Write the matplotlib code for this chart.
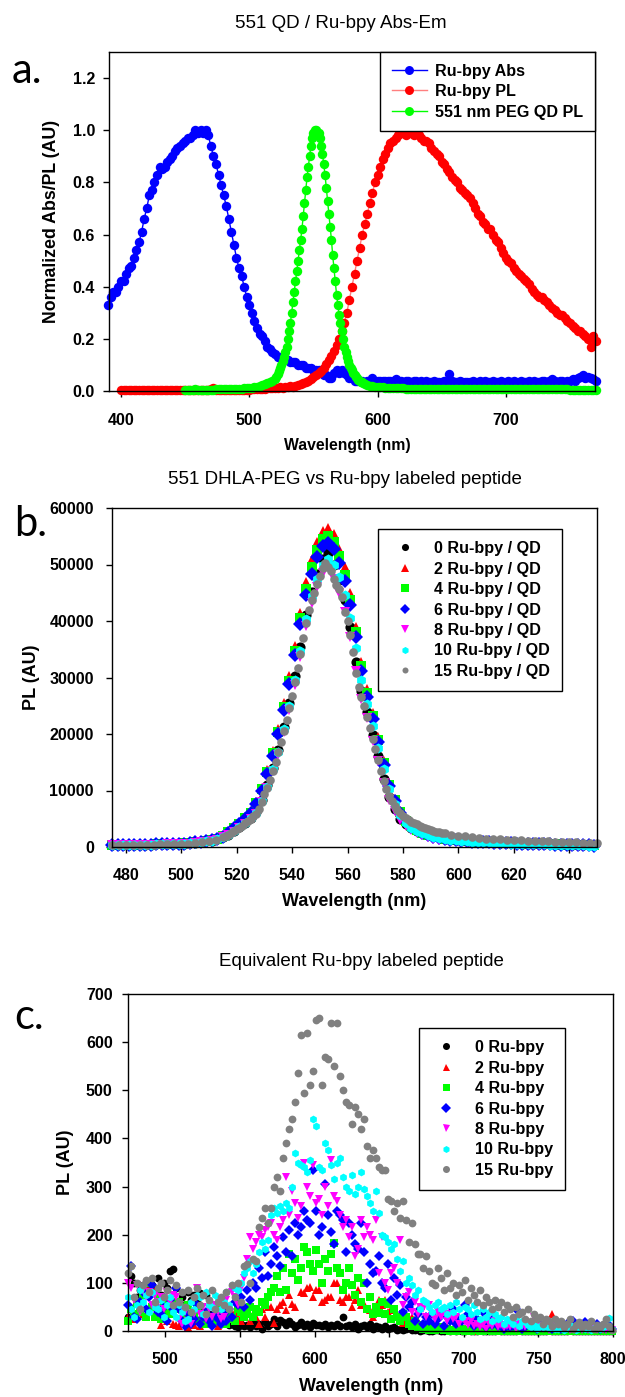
import matplotlib
matplotlib.use('Agg')
import matplotlib.pyplot as plt
import numpy as np

plt.rcParams['font.family'] = ['Liberation Sans', 'DejaVu Sans']

# ---------------- panel a : normalized Abs / PL ----------------
wl_abs = np.arange(390, 771, 2)
rubpy_abs = [
    0.33, 0.36, 0.38, 0.38, 0.40, 0.42, 0.42, 0.45, 0.47, 0.48,
    0.51, 0.54, 0.57, 0.61, 0.66, 0.70, 0.75, 0.77, 0.80, 0.83,
    0.86, 0.85, 0.86, 0.88, 0.89, 0.90, 0.92, 0.93, 0.94, 0.95,
    0.96, 0.97, 0.97, 0.98, 1.00, 0.99, 1.00, 0.99, 1.00, 0.98,
    0.94, 0.90, 0.87, 0.83, 0.79, 0.75, 0.71, 0.66, 0.61, 0.56,
    0.51, 0.47, 0.44, 0.40, 0.36, 0.33, 0.30, 0.27, 0.24, 0.22,
    0.21, 0.19, 0.17, 0.16, 0.15, 0.14, 0.13, 0.13, 0.12, 0.12,
    0.12, 0.11, 0.11, 0.11, 0.10, 0.10, 0.10, 0.09, 0.09, 0.09,
    0.08, 0.08, 0.08, 0.07, 0.06, 0.06, 0.05, 0.05, 0.07, 0.08,
    0.07, 0.08, 0.07, 0.06, 0.05, 0.05, 0.04, 0.04, 0.04, 0.04,
    0.03, 0.04, 0.04, 0.05, 0.04, 0.04, 0.04, 0.04, 0.04, 0.04,
    0.04, 0.04, 0.045, 0.04, 0.04, 0.035, 0.04, 0.04, 0.035, 0.04,
    0.04, 0.035, 0.04, 0.035, 0.04, 0.035, 0.035, 0.04, 0.035, 0.035,
    0.035, 0.04, 0.035, 0.065, 0.04, 0.035, 0.035, 0.04, 0.035, 0.035,
    0.035, 0.035, 0.04, 0.035, 0.035, 0.04, 0.035, 0.04, 0.035, 0.035,
    0.04, 0.035, 0.035, 0.04, 0.035, 0.035, 0.04, 0.035, 0.04, 0.035,
    0.035, 0.04, 0.035, 0.035, 0.04, 0.035, 0.04, 0.035, 0.035, 0.04,
    0.04, 0.035, 0.04, 0.045, 0.04, 0.035, 0.04, 0.04, 0.035, 0.04,
    0.04, 0.045, 0.04, 0.05, 0.055, 0.06, 0.05, 0.055, 0.05, 0.045,
    0.04]

wl_pl = np.arange(400, 771, 2)
rubpy_pl = [
    0.002, 0.003, 0.002, 0.002, 0.003, 0.002, 0.002, 0.003, 0.002, 0.002,
    0.002, 0.003, 0.002, 0.002, 0.003, 0.002, 0.002, 0.003, 0.002, 0.002,
    0.002, 0.003, 0.002, 0.002, 0.003, 0.002, 0.002, 0.003, 0.002, 0.002,
    0.002, 0.003, 0.002, 0.002, 0.003, 0.006, 0.012, 0.004, 0.002, 0.003,
    0.003, 0.002, 0.003, 0.004, 0.003, 0.004, 0.004, 0.005, 0.004, 0.005,
    0.005, 0.006, 0.006, 0.007, 0.008, 0.008, 0.009, 0.010, 0.010, 0.011,
    0.012, 0.013, 0.015, 0.012, 0.014, 0.016, 0.018, 0.017, 0.019, 0.022,
    0.025, 0.030, 0.035, 0.040, 0.046, 0.053, 0.060, 0.068, 0.078, 0.090,
    0.105, 0.12, 0.135, 0.155, 0.175, 0.20, 0.23, 0.26, 0.30, 0.35,
    0.40, 0.45, 0.50, 0.55, 0.60, 0.64, 0.68, 0.72, 0.76, 0.80,
    0.83, 0.86, 0.89, 0.91, 0.93, 0.95, 0.96, 0.97, 0.98, 0.99,
    0.99, 0.98, 0.99, 0.99, 0.98, 0.99, 0.98, 0.97, 0.96, 0.96,
    0.95, 0.93, 0.92, 0.91, 0.90, 0.88, 0.87, 0.85, 0.84, 0.82,
    0.81, 0.80, 0.78, 0.77, 0.76, 0.75, 0.74, 0.72, 0.70, 0.68,
    0.67, 0.65, 0.64, 0.62, 0.62, 0.60, 0.58, 0.57, 0.55, 0.53,
    0.51, 0.50, 0.49, 0.47, 0.46, 0.45, 0.44, 0.43, 0.42, 0.41,
    0.39, 0.38, 0.37, 0.36, 0.36, 0.35, 0.34, 0.33, 0.32, 0.31,
    0.30, 0.29, 0.29, 0.28, 0.27, 0.26, 0.25, 0.24, 0.23, 0.23,
    0.22, 0.21, 0.20, 0.17, 0.21,
    0.19]

wl_qd = np.concatenate([np.arange(450, 520, 2), np.arange(520, 590), np.arange(590, 771, 2)])
qd_pl = [
    0.005, 0.004, 0.005, 0.005, 0.006, 0.005, 0.005, 0.004, 0.005, 0.005,
    0.005, 0.005, 0.006, 0.006, 0.006, 0.006, 0.007, 0.007, 0.007, 0.008,
    0.008, 0.009, 0.009, 0.010, 0.011, 0.012, 0.013, 0.015, 0.017, 0.019,
    0.022, 0.025, 0.029, 0.034, 0.040,
    0.047, 0.055, 0.064, 0.075, 0.088, 0.10, 0.115, 0.13, 0.15, 0.17,
    0.20, 0.23, 0.26, 0.30, 0.34, 0.38, 0.42, 0.46, 0.50, 0.54,
    0.58, 0.62, 0.67, 0.72, 0.77, 0.82, 0.86, 0.90, 0.94, 0.97,
    0.99, 1.00, 1.00, 0.99, 0.99, 0.97, 0.94, 0.91, 0.87, 0.83,
    0.78, 0.73, 0.68, 0.63, 0.58, 0.52, 0.47, 0.42, 0.37, 0.33,
    0.29, 0.26, 0.23, 0.20, 0.17, 0.15, 0.13, 0.115, 0.10, 0.09,
    0.08, 0.07, 0.062, 0.055, 0.049, 0.044, 0.040, 0.036, 0.033, 0.030,
    0.027, 0.024, 0.021, 0.019, 0.017, 0.016, 0.015, 0.014, 0.013, 0.012,
    0.012, 0.011, 0.011, 0.010, 0.010, 0.010, 0.009, 0.009, 0.009, 0.009,
    0.008, 0.008, 0.008, 0.008, 0.008, 0.008, 0.008, 0.008, 0.008, 0.008,
    0.008, 0.008, 0.007, 0.007, 0.007, 0.007, 0.007, 0.007, 0.007, 0.007,
    0.007, 0.007, 0.007, 0.007, 0.007, 0.007, 0.007, 0.007, 0.007, 0.007,
    0.007, 0.006, 0.007, 0.006, 0.006, 0.006, 0.006, 0.006, 0.006, 0.006,
    0.006, 0.006, 0.006, 0.006, 0.006, 0.006, 0.006, 0.006, 0.006, 0.006,
    0.006, 0.006, 0.006, 0.006, 0.006, 0.006, 0.006, 0.006, 0.006, 0.006,
    0.005, 0.005, 0.005, 0.005, 0.005, 0.005, 0.005, 0.005, 0.005, 0.005,
    0.005]

# ---------------- panel b : QD PL (x1000 counts) ----------------
wl_b = np.arange(475, 650, 2)
wl_b15 = np.concatenate([np.arange(475, 515, 2.5), np.arange(515, 595), np.arange(595, 650.1, 2.5)])
qd_0 = [
    0.3, 0.3, 0.3, 0.4, 0.4, 0.4, 0.4, 0.4, 0.5, 0.5,
    0.5, 0.5, 0.6, 0.6, 0.7, 0.7, 0.8, 1.0, 1.1, 1.4,
    1.8, 2.2, 2.9, 3.5, 4.3, 5.2, 6.2, 8.3, 10.9, 14.0,
    17.2, 21.3, 25.5, 30.2, 35.4, 41.1, 45.2, 48.4, 51.0, 52.0,
    49.9, 47.3, 43.7, 39.0, 32.8, 27.6, 23.9, 19.8, 16.1, 12.0,
    8.8, 6.8, 5.0, 4.0, 3.3, 2.8, 2.4, 2.1, 1.9, 1.7,
    1.5, 1.4, 1.3, 1.2, 1.1, 1.0, 0.95, 0.9, 0.85, 0.8,
    0.75, 0.7, 0.7, 0.65, 0.6, 0.6, 0.55, 0.55, 0.5, 0.5,
    0.45, 0.45, 0.4, 0.4, 0.35, 0.35, 0.3, 0.3]
qd_2 = [
    0.3, 0.3, 0.4, 0.4, 0.4, 0.4, 0.5, 0.5, 0.5, 0.5,
    0.6, 0.6, 0.6, 0.7, 0.7, 0.8, 0.9, 1.1, 1.2, 1.5,
    1.9, 2.6, 3.45, 4.25, 5.2, 6.25, 7.9, 10.5, 13.6, 17.0,
    20.9, 25.5, 30.3, 35.6, 41.5, 46.9, 50.9, 54.0, 56.0, 56.5,
    55.4, 52.8, 49.5, 45.0, 39.0, 32.8, 28.0, 23.8, 19.5, 15.3,
    11.3, 8.5, 6.4, 4.8, 3.8, 3.1, 2.6, 2.25, 2.0, 1.8,
    1.5, 1.4, 1.3, 1.2, 1.1, 1.0, 0.95, 0.9, 0.85, 0.8,
    0.75, 0.7, 0.7, 0.65, 0.6, 0.6, 0.55, 0.5, 0.5, 0.5,
    0.45, 0.4, 0.4, 0.4, 0.35, 0.35, 0.3, 0.3]
qd_4 = [
    0.3, 0.3, 0.3, 0.4, 0.4, 0.4, 0.4, 0.4, 0.5, 0.5,
    0.6, 0.6, 0.6, 0.7, 0.7, 0.8, 0.9, 1.0, 1.2, 1.5,
    1.9, 2.6, 3.35, 4.15, 5.05, 6.05, 7.7, 10.2, 13.25, 16.55,
    20.4, 24.8, 29.45, 34.65, 40.45, 45.7, 49.55, 52.55, 54.45, 55.0,
    53.9, 51.45, 48.15, 43.75, 38.0, 31.95, 27.25, 23.1, 19.0, 14.9,
    11.05, 8.3, 6.2, 4.65, 3.7, 3.05, 2.55, 2.15, 1.9, 1.7,
    1.5, 1.4, 1.3, 1.2, 1.1, 1.0, 0.9, 0.9, 0.8, 0.8,
    0.75, 0.7, 0.65, 0.65, 0.6, 0.55, 0.55, 0.5, 0.5, 0.45,
    0.45, 0.4, 0.4, 0.35, 0.35, 0.3, 0.3, 0.3]
qd_6 = [
    0.3, 0.3, 0.3, 0.4, 0.4, 0.4, 0.4, 0.4, 0.5, 0.5,
    0.5, 0.5, 0.6, 0.6, 0.7, 0.8, 0.9, 1.0, 1.2, 1.5,
    1.8, 2.5, 3.35, 4.1, 4.95, 5.95, 7.55, 9.95, 12.9, 16.15,
    19.95, 24.25, 28.8, 33.9, 39.55, 44.65, 48.4, 51.35, 53.25, 53.8,
    52.7, 50.3, 47.1, 42.8, 37.2, 31.2, 26.6, 22.6, 18.6, 14.6,
    10.8, 8.1, 6.1, 4.6, 3.6, 2.95, 2.5, 2.1, 1.8, 1.6,
    1.4, 1.3, 1.2, 1.1, 1.0, 0.95, 0.9, 0.85, 0.8, 0.75,
    0.7, 0.65, 0.65, 0.6, 0.55, 0.55, 0.5, 0.5, 0.45, 0.45,
    0.4, 0.4, 0.35, 0.35, 0.3, 0.3, 0.3, 0.25]
qd_8 = [
    0.3, 0.3, 0.3, 0.3, 0.3, 0.3, 0.4, 0.4, 0.4, 0.4,
    0.5, 0.5, 0.5, 0.6, 0.6, 0.7, 0.8, 0.9, 1.1, 1.3,
    1.7, 2.1, 2.7, 3.4, 4.1, 5.0, 5.9, 7.9, 10.4, 13.4,
    16.3, 20.3, 24.3, 28.7, 33.7, 39.1, 43.1, 46.0, 48.5, 49.5,
    47.5, 45.0, 41.6, 37.1, 31.2, 26.2, 22.8, 18.8, 15.3, 11.4,
    8.4, 6.4, 4.7, 3.7, 3.0, 2.5, 2.1, 1.8, 1.5, 1.3,
    1.2, 1.1, 1.0, 0.9, 0.85, 0.8, 0.75, 0.7, 0.65, 0.6,
    0.6, 0.55, 0.5, 0.5, 0.45, 0.45, 0.4, 0.4, 0.35, 0.35,
    0.3, 0.3, 0.3, 0.25, 0.25, 0.25, 0.2, 0.2]
qd_10 = [
    0.3, 0.3, 0.3, 0.4, 0.4, 0.4, 0.4, 0.4, 0.5, 0.5,
    0.5, 0.5, 0.6, 0.6, 0.7, 0.7, 0.8, 1.0, 1.1, 1.4,
    1.7, 2.2, 2.8, 3.5, 4.2, 5.1, 6.1, 8.2, 10.7, 13.8,
    16.8, 20.9, 25.0, 29.6, 34.7, 40.3, 44.4, 47.4, 50.0, 51.0,
    50.0, 47.7, 44.6, 40.55, 35.2, 29.55, 25.25, 21.45, 17.6, 13.75,
    10.2, 7.65, 5.7, 4.3, 3.4, 2.85, 2.4, 2.05, 1.8, 1.6,
    1.4, 1.3, 1.2, 1.1, 1.0, 0.95, 0.9, 0.85, 0.8, 0.75,
    0.7, 0.65, 0.6, 0.6, 0.55, 0.5, 0.5, 0.45, 0.45, 0.4,
    0.4, 0.35, 0.35, 0.3, 0.3, 0.3, 0.25, 0.25]
qd_15 = [
    0.3, 0.3, 0.3, 0.35, 0.35, 0.4, 0.4, 0.45, 0.5, 0.5, 0.55, 0.6, 0.7, 0.8, 1.0, 1.3,
    1.8, 2.0, 2.2, 2.5, 2.8, 3.1, 3.4, 3.8, 4.2, 4.6,
    5.0, 5.4, 5.8, 6.8, 8.0, 9.3, 10.5, 11.9, 13.5, 15.1,
    16.8, 18.6, 20.6, 22.5, 24.6, 26.8, 29.2, 31.7, 34.2, 37.0,
    39.6, 42.0, 43.8, 45.0, 46.6, 48.0, 49.3, 50.2, 49.6, 48.9,
    47.4, 46.4, 45.6, 44.2, 41.6, 40.0, 37.6, 34.5, 30.8, 28.4,
    26.6, 24.9, 23.0, 21.0, 19.1, 17.3, 15.4, 13.5, 11.7, 10.2,
    9.0, 8.2, 7.3, 6.6, 6.0, 5.4, 5.1, 4.8, 4.5, 4.2,
    4.0, 3.8, 3.5, 3.3, 3.1, 3.0, 2.8, 2.7, 2.6, 2.5,
    2.4, 2.2, 2.0, 1.9, 1.75, 1.6, 1.5, 1.45, 1.35, 1.3, 1.25, 1.2,
    1.15, 1.1, 1.05, 1.0, 0.95, 0.9, 0.85, 0.8, 0.75, 0.7, 0.65]

# ---------------- panel c : free Ru-bpy peptide ----------------
wl_c = np.arange(475, 800, 2)
pep_0 = [
    30, 115, 100, 70, 85, 95, 100, 80, 95, 85, 110, 75, 100, 90, 125, 128,
    90, 60, 70, 55, 80, 65, 75, 60, 78, 40, 75, 35, 25, 20, 30, 15,
    20, 25, 12, 15, 10, 8, 15, 10, 12, 8, 20, 10, 15, 5, 18, 10,
    15, 25, 10, 22, 18, 12, 20, 15, 8, 12, 18, 10, 14, 8, 16, 12,
    12, 10, 15, 8, 12, 10, 15, 10, 30, 10, 12, 8, 15, 5, 10, 12,
    8, 15, 5, 10, 8, 5, 10, 4, 6, 8, 3, 5, 2, 4, 6, 3,
    2, 4, 1, 3, 2, 0, 1, 3, 2, 1, 0, 2, 1, 3, 0, 2,
    1, 0, 2, 1, 0, 1, 2, 0, 1, 0, 1, 0, 2, 1, 0, 1,
    1, 0, 1, 2, 0, 1, 0, 1, 0, 1, 0, 1, 0, 2, 1, 0,
    1, 0, 1, 0, 2, 0, 1, 0, 1, 0, 1, 0, 1, 0, 1, 0,
    1, 0, 1]
pep_2 = [
    30, 50, 25, 65, 45, 35, 85, 95, 92, 55, 40, 12, 30, 20, 50, 15,
    12, 10, 20, 15, 8, 25, 12, 20, 10, 18, 30, 15, 25, 20, 10, 15,
    20, 30, 25, 35, 40, 30, 20, 37, 50, 20, 35, 30, 15, 45, 30, 50,
    50, 16, 45, 55, 60, 44, 75, 57, 50, 105, 80, 78, 90, 92, 70, 85,
    85, 60, 64, 70, 71, 100, 99, 64, 60, 71, 70, 50, 65, 85, 55, 57,
    45, 44, 30, 40, 65, 55, 64, 40, 45, 44, 35, 20, 16, 25, 15, 30,
    23, 20, 10, 15, 8, 12, 5, 9, 8, 6, 4, 8, 3, 5, 2, 4,
    6, 3, 2, 4, 1, 3, 2, 1, 4, 2, 3, 1, 2, 3, 2, 1,
    3, 2, 1, 4, 2, 3, 1, 2, 3, 2, 1, 3, 2, 2, 35, 5,
    3, 2, 4, 1, 3, 2, 1, 3, 2, 1, 2, 1, 3, 2, 1, 2,
    1, 2, 1]
pep_4 = [
    20, 45, 35, 60, 40, 75, 30, 100, 50, 30, 70, 25, 55, 40, 35, 60,
    45, 60, 50, 25, 55, 35, 30, 45, 20, 35, 15, 25, 30, 20, 45, 40,
    30, 15, 25, 30, 20, 45, 40, 30, 35, 50, 30, 45, 40, 60, 55, 70,
    80, 90, 115, 80, 130, 85, 160, 120, 150, 105, 130, 175, 165, 140, 125, 168,
    140, 100, 150, 125, 160, 182, 130, 120, 85, 100, 130, 95, 75, 110, 60, 100,
    45, 70, 35, 50, 37, 60, 35, 57, 25, 45, 30, 20, 35, 30, 15, 10,
    20, 8, 12, 5, 10, 3, 6, 2, 8, 4, 2, 5, 1, 3, 0, 2,
    5, 1, 3, 0, 2, 4, 1, 0, 2, 3, 1, 0, 2, 1, 0, 3,
    1, 0, 2, 1, 0, 2, 1, 0, 2, 0, 1, 0, 1, 0, 2, 0,
    1, 0, 2, 0, 1, 0, 0, 1, 0, 2, 0, 1, 0, 1, 0, 1,
    0, 1, 0]
pep_6 = [
    55, 135, 30, 25, 60, 80, 45, 70, 95, 55, 40, 35, 50, 20, 65, 45,
    90, 45, 20, 10, 35, 15, 25, 55, 15, 30, 40, 20, 10, 35, 25, 15,
    35, 20, 45, 30, 60, 55, 70, 50, 85, 65, 100, 90, 130, 110, 165, 115,
    140, 175, 155, 135, 195, 165, 210, 155, 225, 200, 215, 250, 230, 225, 335, 250,
    200, 215, 305, 240, 205, 180, 250, 240, 230, 165, 225, 200, 180, 170, 225, 165,
    100, 140, 120, 125, 155, 100, 90, 140, 65, 110, 75, 95, 40, 70, 50, 60,
    20, 35, 45, 15, 30, 20, 35, 15, 25, 40, 10, 30, 20, 45, 15, 25,
    20, 55, 35, 20, 10, 25, 15, 40, 8, 20, 12, 30, 10, 15, 5, 12,
    8, 10, 45, 12, 5, 8, 15, 10, 20, 5, 12, 8, 18, 6, 4, 10,
    12, 5, 8, 15, 10, 20, 5, 12, 8, 18, 6, 4, 8, 15, 5, 10,
    6, 12, 4]
pep_8 = [
    100, 90, 65, 95, 40, 85, 70, 80, 55, 75, 60, 70, 45, 80, 60, 75,
    70, 25, 15, 40, 20, 15, 35, 90, 35, 50, 25, 45, 30, 55, 40, 25,
    30, 65, 50, 80, 70, 55, 90, 110, 150, 195, 170, 185, 200, 195, 210, 215,
    225, 200, 190, 215, 230, 320, 240, 290, 265, 235, 260, 350, 300, 280, 345, 265,
    275, 240, 300, 260, 355, 280, 270, 240, 215, 230, 195, 215, 155, 170, 230, 195,
    215, 200, 190, 230, 120, 195, 100, 85, 120, 130, 100, 190, 55, 70, 80, 40,
    60, 35, 50, 45, 30, 55, 35, 25, 40, 30, 40, 20, 35, 25, 30, 15,
    25, 18, 12, 20, 10, 15, 8, 12, 5, 15, 10, 20, 8, 12, 6, 10,
    8, 12, 5, 15, 10, 8, 12, 6, 30, 15, 10, 5, 8, 3, 10, 6,
    4, 8, 2, 5, 3, 6, 2, 5, 3, 6, 2, 4, 8, 3, 5, 2,
    3, 5, 2]
pep_10 = [
    70, 45, 30, 55, 85, 60, 75, 40, 80, 50, 45, 65, 30, 55, 70, 40,
    30, 55, 40, 20, 25, 60, 45, 75, 70, 35, 80, 55, 50, 75, 65, 45,
    60, 80, 55, 95, 90, 85, 100, 120, 130, 145, 120, 140, 165, 185, 170, 190,
    240, 255, 245, 260, 250, 265, 255, 300, 370, 350, 345, 340, 330, 355, 440, 425,
    340, 335, 390, 375, 345, 315, 350, 360, 320, 300, 290, 325, 285, 300, 330, 295,
    280, 265, 250, 290, 245, 200, 195, 185, 170, 180, 150, 125, 145, 100, 110, 95,
    75, 85, 45, 65, 60, 50, 40, 55, 60, 45, 50, 35, 55, 40, 60, 45,
    30, 50, 45, 35, 55, 40, 25, 45, 30, 40, 20, 35, 25, 30, 15, 25,
    20, 15, 30, 10, 20, 18, 12, 8, 15, 5, 10, 8, 12, 6, 10, 4,
    5, 10, 3, 8, 12, 5, 2, 10, 6, 4, 8, 3, 6, 10, 4, 8,
    12, 28, 5]
pep_15 = [
    120, 135, 70, 100, 45, 95, 105, 80, 110, 60, 90, 100, 70, 85, 105, 55,
    95, 60, 80, 50, 85, 40, 70, 90, 55, 75, 35, 65, 85, 45, 60, 70,
    55, 80, 45, 95, 70, 100, 60, 135, 140, 100, 150, 145, 215, 235, 255, 225,
    255, 300, 320, 290, 360, 390, 420, 440, 475, 535, 615, 495, 620, 510, 540, 645,
    650, 510, 570, 565, 640, 550, 640, 530, 500, 475, 470, 430, 465, 450, 420, 440,
    385, 360, 375, 360, 340, 335, 335, 275, 270, 250, 265, 235, 270, 230, 185, 225,
    180, 160, 160, 130, 155, 125, 100, 95, 130, 110, 85, 120, 90, 100, 75, 95,
    80, 105, 65, 90, 75, 60, 85, 55, 70, 60, 45, 65, 50, 60, 40, 55,
    45, 30, 50, 35, 40, 25, 45, 20, 35, 25, 30, 15, 25, 20, 10, 25,
    15, 20, 8, 15, 25, 5, 12, 18, 8, 15, 10, 20, 5, 12, 8, 15,
    25, 10, 3]

labels_qd = ['0 Ru-bpy / QD', '2 Ru-bpy / QD', '4 Ru-bpy / QD', '6 Ru-bpy / QD',
             '8 Ru-bpy / QD', '10 Ru-bpy / QD', '15 Ru-bpy / QD']
labels_pep = ['0 Ru-bpy', '2 Ru-bpy', '4 Ru-bpy', '6 Ru-bpy',
              '8 Ru-bpy', '10 Ru-bpy', '15 Ru-bpy']
colors = ['black', '#ff0000', '#00ff00', '#0000ff', '#ff00ff', '#00ffff', '#808080']
markers = ['o', '^', 's', 'D', 'v', 'h', 'o']

W, H = 625, 1397
fig = plt.figure(figsize=(W / 100, H / 100), dpi=100)


def px_axes(l, t, r, b):
    return fig.add_axes([l / W, 1 - b / H, (r - l) / W, (b - t) / H])


def style_axes(ax, xpad, ypad):
    for s in ax.spines.values():
        s.set_linewidth(1.0)
    ax.tick_params(direction='out', length=4, width=1, labelsize=11.5, top=False, right=False)
    ax.tick_params(axis='x', pad=xpad)
    ax.tick_params(axis='y', pad=ypad)
    for lab in ax.get_xticklabels() + ax.get_yticklabels():
        lab.set_fontweight('bold')


def leg_style(leg):
    fr = leg.get_frame()
    fr.set_edgecolor('black')
    fr.set_linewidth(1.0)
    fr.set_boxstyle('square', pad=0)


leg_font = {'weight': 'bold', 'size': 11.6}

# ---- a ----
ax1 = px_axes(109, 52, 595, 391)
ax1.plot(wl_abs, rubpy_abs, '-o', color='#0000ff', ms=6.8, mew=0, lw=1, clip_on=False, label='Ru-bpy Abs')
ax1.plot(wl_pl, rubpy_pl, '-o', color='#ff7f7f', mfc='#ff0000', mec='#ff0000', ms=6.8, mew=0, lw=1,
         clip_on=False, label='Ru-bpy PL')
ax1.plot(wl_qd, qd_pl, '-o', color='#00ff00', ms=6.8, mew=0, lw=1, clip_on=False, label='551 nm PEG QD PL')
ax1.set_xlim(390.6, 769.5)
ax1.set_ylim(0, 1.3)
ax1.set_xticks([400, 500, 600, 700])
ax1.set_yticks(np.arange(0, 1.21, 0.2))
ax1.yaxis.set_major_formatter(matplotlib.ticker.FormatStrFormatter('%.1f'))
style_axes(ax1, 12, 6)
ax1.set_xlabel('Wavelength (nm)', fontsize=11.3, fontweight='bold')
ax1.set_ylabel('Normalized Abs/PL (AU)', fontsize=12.8, fontweight='bold')
ax1.xaxis.set_label_coords(0.49, -0.139)
ax1.xaxis.label.set_va('top')
ax1.yaxis.set_label_coords(-0.101, 0.5)
leg = ax1.legend(loc='upper right', bbox_to_anchor=(1, 1), borderaxespad=0, fancybox=False,
                 framealpha=1, prop=leg_font, borderpad=0.72, labelspacing=0.34,
                 handlelength=2.2, handletextpad=0.5, numpoints=1, markerscale=0.95)
leg_style(leg)

# ---- b ----
ax2 = px_axes(112, 508, 597, 847)
series_b = [qd_0, qd_2, qd_4, qd_6, qd_8, qd_10]
for vals, c, m, lab in zip(series_b, colors[:6], markers[:6], labels_qd[:6]):
    ax2.plot(wl_b, np.array(vals) * 1000, m, color=c, ms=7.3, mew=0, clip_on=False, label=lab)
ax2.plot(wl_b15, np.array(qd_15) * 1000, 'o', color=colors[6], ms=6.2, mew=0, clip_on=False, label=labels_qd[6])
ax2.set_xlim(475, 650)
ax2.set_ylim(0, 60000)
ax2.set_xticks(np.arange(480, 641, 20))
ax2.set_yticks(np.arange(0, 60001, 10000))
style_axes(ax2, 11, 9)
ax2.set_xlabel('Wavelength (nm)', fontsize=13, fontweight='bold')
ax2.set_ylabel('PL (AU)', fontsize=13, fontweight='bold')
ax2.xaxis.set_label_coords(0.499, -0.136)
ax2.xaxis.label.set_va('top')
ax2.yaxis.set_label_coords(-0.148, 0.5)
leg = ax2.legend(loc='upper left', bbox_to_anchor=(378 / W, 1 - 529 / H), bbox_transform=fig.transFigure,
                 borderaxespad=0, fancybox=False, framealpha=1, prop=leg_font,
                 borderpad=0.75, labelspacing=0.34, handlelength=1.9, handletextpad=0.8, numpoints=1,
                 markerscale=0.7)
leg_style(leg)

# ---- c ----
ax3 = px_axes(128, 994, 613, 1331)
series_c = [pep_0, pep_2, pep_4, pep_6, pep_8, pep_10, pep_15]
for vals, c, m, lab in zip(series_c, colors, markers, labels_pep):
    ax3.plot(wl_c, vals, m, color=c, ms=5.6, mew=0, clip_on=False, label=lab)
ax3.set_xlim(475, 800)
ax3.set_ylim(0, 700)
ax3.set_xticks(np.arange(500, 801, 50))
ax3.set_yticks(np.arange(0, 701, 100))
style_axes(ax3, 11, 7)
ax3.set_xlabel('Wavelength (nm)', fontsize=13, fontweight='bold')
ax3.set_ylabel('PL (AU)', fontsize=13, fontweight='bold')
ax3.xaxis.set_label_coords(0.501, -0.139)
ax3.xaxis.label.set_va('top')
ax3.yaxis.set_label_coords(-0.111, 0.5)
leg = ax3.legend(loc='upper left', bbox_to_anchor=(419 / W, 1 - 1028 / H), bbox_transform=fig.transFigure,
                 borderaxespad=0, fancybox=False, framealpha=1, prop=leg_font,
                 borderpad=0.75, labelspacing=0.34, handlelength=1.9, handletextpad=0.8, numpoints=1,
                 markerscale=0.9)
leg_style(leg)

# titles and panel letters
fig.text(341 / W, 1 - 23 / H, '551 QD / Ru-bpy Abs-Em', ha='center', va='center', fontsize=13.5)
fig.text(345 / W, 1 - 479 / H, '551 DHLA-PEG vs Ru-bpy labeled peptide', ha='center', va='center', fontsize=13.5)
fig.text(361 / W, 1 - 961 / H, 'Equivalent Ru-bpy labeled peptide', ha='center', va='center', fontsize=13.5)
for txt, x, y in [('a.', 12, 83), ('b.', 14, 536), ('c.', 14, 1029)]:
    fig.text(x / W, 1 - y / H, txt, ha='left', va='baseline', fontsize=30, family=['Lato', 'DejaVu Sans'])

fig.savefig('out.png', dpi=100)
